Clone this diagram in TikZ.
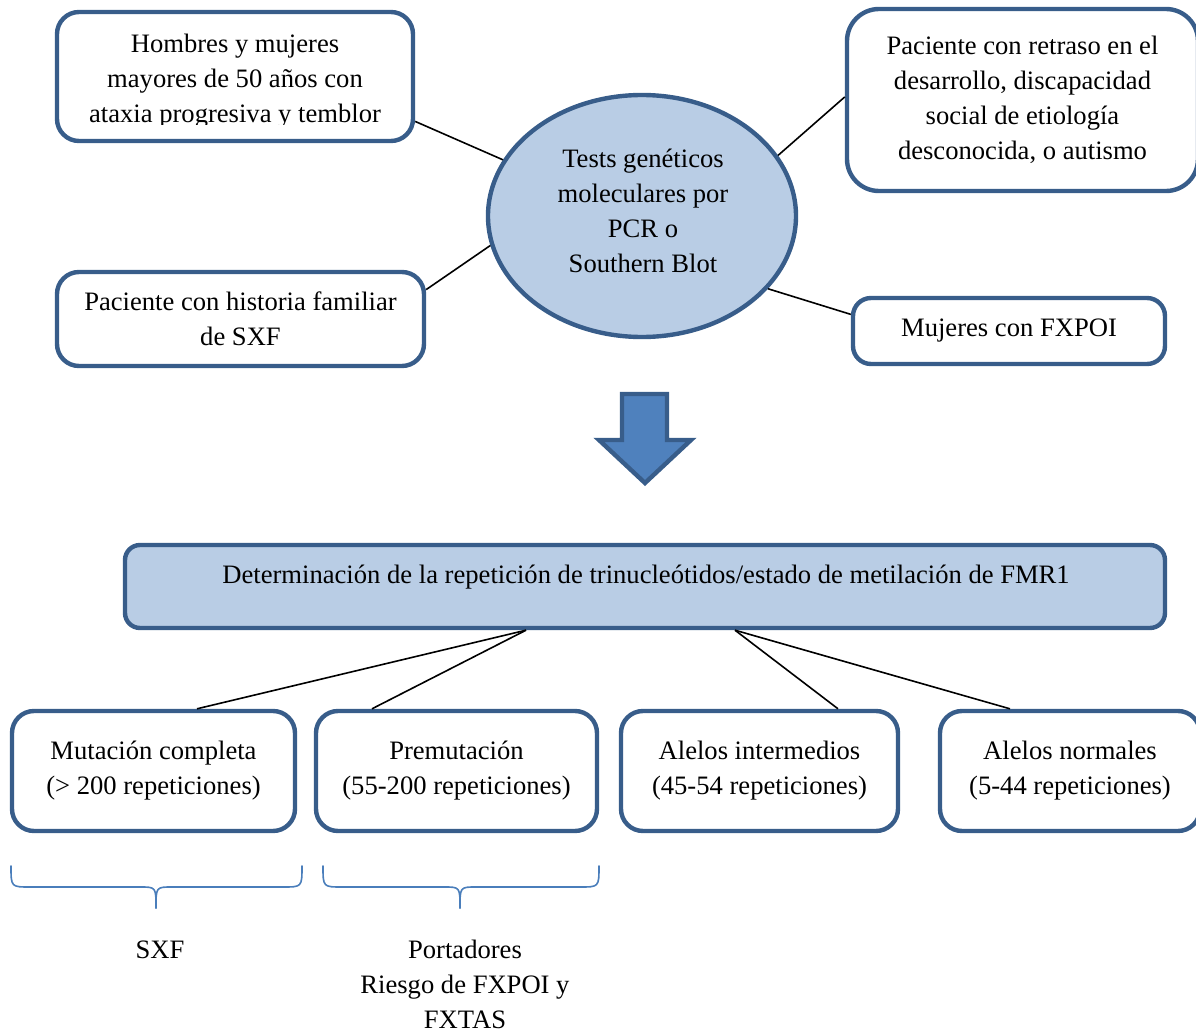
\documentclass[tikz,border=0pt]{standalone}
\usepackage{fontspec}
\setmainfont{Liberation Serif}
\usetikzlibrary{shapes.geometric,calc}
\definecolor{bord}{RGB}{56,93,138}
\definecolor{lfill}{RGB}{185,205,229}
\definecolor{afill}{RGB}{79,129,189}
\definecolor{brc}{RGB}{74,126,187}
\begin{document}
\begin{tikzpicture}[x=0.5pt,y=-0.5pt,
  txtfont/.style={font=\fontsize{13.3}{17.5}\selectfont},
  box/.style={draw=bord, line width=2.2pt, rounded corners=11pt, fill=white,
    align=center, inner sep=0pt, txtfont},
  txt/.style={align=center, inner sep=0pt, txtfont},
  conn/.style={draw=black, line width=0.8pt},
  bracestyle/.style={draw=brc, line width=0.8pt, line cap=round}]
\useasboundingbox (0,0) rectangle (1196,1033);

% top-left box with clipped text
\node[box, minimum width=178pt, minimum height=64.5pt] (tl) at (235,76.5) {};
\begin{scope}
  \clip (57,12) rectangle (413,124);
  \node[txt] (tlt) at (235,81) {Hombres y mujeres\\mayores de 50 años con\\ataxia progresiva y temblor};
\end{scope}

\node[box, rounded corners=16pt, minimum width=175.5pt, minimum height=91pt] (tr) at (1022.5,100)
  {Paciente con retraso en el\\desarrollo, discapacidad\\social de etiología\\desconocida, o autismo};

\node[draw=bord, line width=2.2pt, fill=lfill, ellipse, minimum width=154pt, minimum height=121pt,
  inner sep=0pt, txt] (ell) at (642,216) {};
\node[txt] (ellt) at (643,211) {Tests genéticos\\moleculares por\\PCR o\\Southern Blot};

\node[box, minimum width=183.5pt, minimum height=47pt] (lb) at (240.5,319)
  {Paciente con historia familiar\\de SXF};
\node[box, rounded corners=9pt, minimum width=156pt, minimum height=33pt] (rb) at (1009,331)
  {Mujeres con FXPOI};

\draw[conn] (tl.346.4) -- (ell.158.4);
\draw[conn] (tr.179.3) -- (ell.24.9);
\draw[conn] (lb.9.8) -- (ell.191.6);
\draw[conn] (rb.174.5) -- (ell.330.4);

% big down arrow
\draw[draw=bord, line width=2.2pt, fill=afill, line join=miter]
  (622,394) -- (667,394) -- (667,440) -- (691,440) -- (645,483) -- (599,440) -- (622,440) -- cycle;

% wide box
\node[box, fill=lfill, rounded corners=7.5pt, minimum width=520pt, minimum height=41.5pt] (wb) at (645,586.5) {};
\node[txt] (wbt) at (646,577) {Determinación de la repetición de trinucleótidos/estado de metilación de FMR1};

% bottom boxes
\node[box, minimum width=141.5pt, minimum height=60pt] (b1) at (153.5,771) {Mutación completa\\(> 200 repeticiones)};
\node[box, minimum width=140.5pt, minimum height=60pt] (b2) at (456.5,771) {Premutación\\(55-200 repeticiones)};
\node[box, minimum width=138.5pt, minimum height=60pt] (b3) at (759.5,771) {Alelos intermedios\\(45-54 repeticiones)};
\node[box, minimum width=130pt, minimum height=60pt] (b4) at (1070,771) {Alelos normales\\(5-44 repeticiones)};

\draw[conn] ($(wb.south)+(-119,0)$) -- ($(b1.north)+(43.5,0)$);
\draw[conn] ($(wb.south)+(-119,0)$) -- ($(b2.north)+(-84.5,0)$);
\draw[conn] ($(wb.south)+(90,0)$) -- ($(b3.north)+(78.5,0)$);
\draw[conn] ($(wb.south)+(90,0)$) -- ($(b4.north)+(-60,0)$);

% braces
\draw[bracestyle] (11,866) .. controls (11,887) and (11,887) .. (30,887) -- (140,887)
  .. controls (156,887) and (156,887) .. (156,908);
\draw[bracestyle] (302,866) .. controls (302,887) and (302,887) .. (283,887) -- (172,887)
  .. controls (156,887) and (156,887) .. (156,908);
\draw[bracestyle] (323,866) .. controls (323,887) and (323,887) .. (342,887) -- (444,887)
  .. controls (460,887) and (460,887) .. (460,908);
\draw[bracestyle] (599,866) .. controls (599,887) and (599,887) .. (580,887) -- (476,887)
  .. controls (460,887) and (460,887) .. (460,908);

\node[txt] (sxf) at (160,950) {SXF};
\node[txt] (port) at (465,984.5) {Portadores\\Riesgo de FXPOI y\\FXTAS};
\end{tikzpicture}
\end{document}
